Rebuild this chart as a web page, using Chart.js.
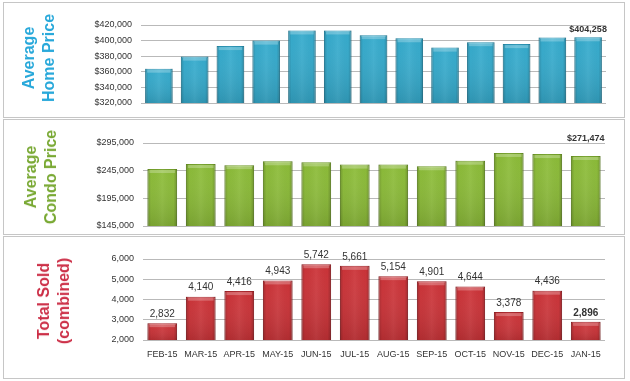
<!DOCTYPE html>
<html>
<head>
<meta charset="utf-8">
<script src="https://cdn.jsdelivr.net/npm/chart.js@4/dist/chart.umd.min.js"></script>
<style>
  body { margin: 0; background: #fff; width: 630px; height: 381px; overflow: hidden; position: relative; font-family: "Liberation Sans", Arial, sans-serif; }
  .panel { position: absolute; left: 3px; width: 620px; border: 1px solid #c6c6c6; background: #fff; }
  .panel canvas { position: absolute; left: 0; top: 0; }
  .title { position: absolute; font-weight: bold; font-size: 16px; line-height: 20px; text-align: center; white-space: nowrap;
           transform: translate(-50%, -50%) rotate(-90deg); }
</style>
</head>
<body>
<div class="panel" style="top:2px;height:114px;">
  <canvas id="home" width="620" height="114"></canvas>
  <div class="title" style="left:35px;top:55px;color:#27a8da;">Average<br>Home Price</div>
</div>
<div class="panel" style="top:119px;height:114px;">
  <canvas id="condo" width="620" height="114"></canvas>
  <div class="title" style="left:37px;top:57px;color:#78a832;">Average<br>Condo Price</div>
</div>
<div class="panel" style="top:236px;height:141px;">
  <canvas id="sold" width="620" height="141"></canvas>
  <div class="title" style="left:50px;top:64px;color:#cc2f47;">Total Sold<br>(combined)</div>
</div>
<script>
// top chart shows 13 bars, the other two 12
const homeMonths = ['JAN-15', 'FEB-15', 'MAR-15', 'APR-15', 'MAY-15', 'JUN-15', 'JUL-15', 'AUG-15', 'SEP-15', 'OCT-15', 'NOV-15', 'DEC-15', 'JAN-16'];
const months = ['FEB-15', 'MAR-15', 'APR-15', 'MAY-15', 'JUN-15', 'JUL-15', 'AUG-15', 'SEP-15', 'OCT-15', 'NOV-15', 'DEC-15', 'JAN-15'];

const homePrice = [364000, 379500, 393000, 400000, 413000, 413000, 407000, 403000, 391000, 398000, 395500, 404000, 404258];
const condoPrice = [248000, 257000, 255000, 262000, 260000, 256000, 256000, 253000, 263000, 277000, 275000, 271474];
const totalSold = [2832, 4140, 4416, 4943, 5742, 5661, 5154, 4901, 4644, 3378, 4436, 2896];

const homeTicks = [320000, 340000, 360000, 380000, 400000, 420000];
const condoTicks = [145000, 195000, 245000, 295000];
const soldTicks = [2000, 3000, 4000, 5000, 6000];

const FONT = '"Liberation Sans", Arial, sans-serif';

// lighter top cap and darker sides, like the excel bevel
const barShade = {
  id: 'barShade',
  afterDatasetsDraw(chart) {
    const ctx = chart.ctx;
    const bottom = chart.chartArea.bottom;
    ctx.save();
    chart.getDatasetMeta(0).data.forEach(bar => {
      const left = bar.x - bar.width / 2;
      const w = bar.width;
      const h = Math.min(bar.base, bottom) - bar.y;
      const g = ctx.createLinearGradient(left, 0, left + w, 0);
      g.addColorStop(0, 'rgba(0,0,0,0.2)');
      g.addColorStop(0.12, 'rgba(0,0,0,0.02)');
      g.addColorStop(0.5, 'rgba(255,255,255,0.06)');
      g.addColorStop(0.88, 'rgba(0,0,0,0.02)');
      g.addColorStop(1, 'rgba(0,0,0,0.22)');
      ctx.fillStyle = g;
      ctx.fillRect(left, bar.y, w, h);
      const v = ctx.createLinearGradient(0, bar.y, 0, bar.y + h);
      v.addColorStop(0, 'rgba(255,255,255,0)');
      v.addColorStop(1, 'rgba(0,0,0,0.12)');
      ctx.fillStyle = v;
      ctx.fillRect(left, bar.y, w, h);
      ctx.fillStyle = 'rgba(255,255,255,0.25)';
      ctx.fillRect(left + 2, bar.y + 1, w - 4, 3);
    });
    ctx.restore();
  }
};

const valueLabels = {
  id: 'valueLabels',
  afterDatasetsDraw(chart, args, opts) {
    const ctx = chart.ctx;
    const data = chart.data.datasets[0].data;
    ctx.save();
    ctx.textAlign = 'center';
    ctx.textBaseline = 'bottom';
    ctx.fillStyle = '#333';
    chart.getDatasetMeta(0).data.forEach((bar, i) => {
      const last = i === data.length - 1;
      if (opts.lastOnly && !last) return;
      ctx.font = (last ? 'bold ' : '') + opts.size + 'px ' + FONT;
      ctx.fillText(opts.prefix + data[i].toLocaleString('en-US'), bar.x, bar.y - opts.gap);
    });
    ctx.restore();
  }
};

function makeChart(id, labels, values, color, border, ticks, yWidth, pad, showX, labelOpts) {
  const x = {
    display: showX,
    grid: { display: false, drawTicks: false },
    border: { display: false },
    ticks: { color: '#333', font: { family: FONT, size: 9 }, padding: 9, maxRotation: 0, autoSkip: false }
  };
  if (showX) x.afterFit = s => { s.height = 38; };
  return new Chart(document.getElementById(id), {
    type: 'bar',
    data: {
      labels: labels,
      datasets: [{
        data: values,
        backgroundColor: color,
        borderColor: border,
        borderWidth: 1,
        categoryPercentage: 1,
        barPercentage: 0.77
      }]
    },
    options: {
      responsive: false,
      animation: false,
      layout: { padding: pad },
      plugins: {
        legend: { display: false },
        tooltip: { enabled: false },
        valueLabels: labelOpts
      },
      scales: {
        x: x,
        y: {
          min: ticks[0],
          max: ticks[ticks.length - 1],
          afterBuildTicks: s => { s.ticks = ticks.map(v => ({ value: v })); },
          grid: { color: '#b9b9b9', drawTicks: false },
          border: { display: false },
          ticks: {
            color: '#333',
            padding: 9,
            autoSkip: false,
            font: { family: FONT, size: 9 },
            callback: v => (id === 'sold' ? '' : '$') + v.toLocaleString('en-US')
          },
          afterFit: s => {
            s.width = yWidth;
            // layout padding alone decides where the plot sits
            s.paddingTop = 0;
            s.paddingBottom = 0;
          }
        }
      }
    },
    plugins: [barShade, valueLabels]
  });
}

makeChart('home', homeMonths, homePrice, '#35abcd', '#2a93b3', homeTicks, 137,
  { top: 22, right: 18, bottom: 14, left: 0 }, false,
  { lastOnly: true, prefix: '$', size: 9, gap: 3 });

makeChart('condo', months, condoPrice, '#8cbc38', '#74a02a', condoTicks, 139,
  { top: 23, right: 19, bottom: 8, left: 0 }, false,
  { lastOnly: true, prefix: '$', size: 9, gap: 13 });

makeChart('sold', months, totalSold, '#cc3338', '#a8262b', soldTicks, 139,
  { top: 22, right: 19, bottom: 0, left: 0 }, true,
  { lastOnly: false, prefix: '', size: 10, gap: 4 });
</script>
</body>
</html>
